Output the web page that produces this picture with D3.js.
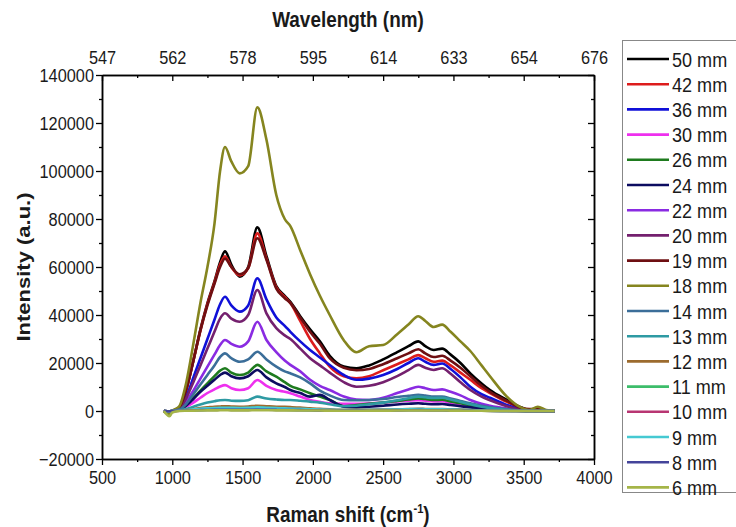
<!DOCTYPE html>
<html><head><meta charset="utf-8">
<script src="https://cdn.jsdelivr.net/npm/d3@7"></script>
<style>
body{margin:0;background:#fff;}
svg text{font-family:"Liberation Sans",Arial,sans-serif;fill:#1a1a1a;}
</style></head>
<body><svg id="c" width="736" height="527"></svg>
<script>
const shifts = [940,980,1000,1050,1100,1150,1200,1250,1300,1340,1375,1420,1480,1540,1605,1670,1740,1800,1840,1910,1980,2050,2120,2220,2310,2400,2500,2600,2680,2750,2800,2860,2920,2980,3050,3120,3200,3260,3380,3470,3540,3600,3660,3720];
const labels = ["50 mm","42 mm","36 mm","30 mm","26 mm","24 mm","22 mm","20 mm","19 mm","18 mm","14 mm","13 mm","12 mm","11 mm","10 mm","9 mm","8 mm","6 mm"];
const colors = ["#000000","#dd1c1c","#1010d8","#ee30ee","#1e7b1e","#0c0c60","#8a2be2","#74206e","#6e0f12","#85851f","#3b6e99","#2e9aa3","#9c6b2e","#3dbd6a","#b83572","#45c9d2","#44449a","#a5b548"];
const s50 = [0,-500,0,1500,9000,21000,34000,45000,54000,62000,66500,61000,56000,60000,76500,64500,52000,48000,45500,39500,34000,29000,23000,18500,17800,19000,21500,24500,27000,29000,27000,25400,26000,23500,20000,15700,11500,8700,4600,1800,500,300,0,0];
const s42 = [0,-400,0,1400,9000,21000,33500,44500,53500,61000,64500,60000,56500,59500,74000,63500,51500,47500,45000,37500,30000,24000,18500,14500,13600,14500,17000,19500,21500,23300,22000,20500,21000,19000,16000,13000,9500,7500,3800,1500,500,200,0,0];
const s36 = [0,-300,0,1000,6000,14000,22000,30000,38000,44500,47600,44000,41400,44000,55300,46500,39000,35500,33000,29000,25400,22300,19200,15000,13000,13500,15000,17500,20000,22000,20500,19200,19800,17500,14000,10100,7000,5500,2500,800,200,0,0,0];
const s30 = [0,-200,0,400,1800,3500,5500,7500,9000,10200,10800,9500,8750,9500,12900,10500,8750,8000,7400,6000,4600,3800,3200,3000,3000,3200,3500,4000,4300,4500,4300,4000,4100,3500,2800,2000,1300,900,400,100,0,0,0,0];
const s26 = [0,-200,0,500,2500,5500,8500,11500,14500,16800,17800,16000,15000,16000,19200,16500,14300,12000,10500,9000,7400,6000,4600,2000,2500,3000,3500,4200,4800,5200,5000,4600,4700,4000,3200,2400,1600,1100,500,100,0,0,0,0];
const s24 = [0,-200,0,500,2300,5000,8000,10500,13000,15000,16000,14500,13600,14500,17100,14000,11500,10000,8750,7500,6000,6700,4600,1800,1500,1800,2200,2700,3000,3200,3000,2800,2900,2500,2000,1500,1000,700,300,0,0,0,0,0];
const s22 = [0,-200,0,800,4000,8500,13500,18500,23500,27500,29600,28000,26800,29000,37200,29600,24500,21000,19200,16500,13000,10500,8750,6000,4800,4600,5500,7500,9000,10100,9500,8750,9000,8000,6500,4600,3000,2200,1000,300,0,0,0,0];
const s20 = [0,-300,0,1000,5500,12000,19000,26000,33000,38500,40700,38500,37200,40000,50400,40700,34500,31500,30000,26000,22000,19000,16000,12000,10100,10500,12000,14500,17000,19200,18000,17100,17800,15500,12000,8750,6000,4500,2000,600,0,0,0,0];
const s19 = [0,-400,0,1500,9000,21000,33500,44000,53000,60000,63500,60000,57000,59500,72000,63000,51000,47000,45000,39000,33000,28000,22000,18000,17000,17500,19500,22000,24000,25700,24000,22500,23000,21000,18000,14500,10500,8000,4200,1600,800,800,200,0];
const s18 = [0,-1500,0,2000,12000,28000,45000,60000,78000,100000,110000,104000,99000,102000,126500,113000,90000,80000,77000,67000,57000,48000,40000,29500,24500,27000,27500,32000,36000,39500,37500,35000,36000,33000,29000,25000,19000,14500,6000,1800,400,1800,400,0];
const s14 = [0,-200,0,600,3000,7000,11000,15000,19000,22500,24000,22000,20500,21500,24700,21500,18500,16500,15700,14000,11500,8500,6500,4600,4500,4600,5000,5800,6300,6700,6400,6000,6000,5200,4200,3200,2200,1500,700,200,0,0,0,0];
const s13 = [0,-100,0,200,800,1800,2700,3500,4100,4500,4600,4300,4200,4500,6000,5200,4800,4600,4600,4300,3900,3500,2800,2000,2200,2800,3500,4500,5300,6000,5700,5400,5500,4800,3800,2800,1800,1200,500,100,0,0,0,0];
const s12 = [0,-100,0,100,400,800,1200,1500,1800,1900,2000,1900,1800,1900,2200,2000,1800,1700,1600,1400,1100,900,700,500,500,500,600,700,800,900,850,800,800,700,600,400,300,200,100,0,0,0,0,0];
const s11 = [0,-100,0,100,200,300,400,500,550,600,600,550,500,550,650,600,550,500,450,400,350,300,250,200,200,250,300,350,400,400,380,350,350,300,250,200,150,100,50,0,0,0,0,0];
const s10 = [0,-100,0,100,300,500,700,800,900,950,1000,950,900,950,1100,1000,900,800,750,650,550,450,350,300,300,350,400,450,500,550,500,480,480,420,350,250,180,120,50,0,0,0,0,0];
const s9 = [0,-100,0,150,400,700,900,1100,1200,1300,1350,1300,1250,1300,1500,1350,1200,1100,1000,900,750,600,500,400,400,450,550,650,750,800,750,700,700,600,500,350,250,150,50,0,0,0,0,0];
const s8 = [0,-100,0,100,200,300,350,400,450,500,500,480,450,480,550,500,450,420,400,350,300,250,200,150,150,200,250,300,330,350,330,300,300,260,200,150,100,60,20,0,0,0,0,0];
const s6 = [0,-2200,-600,0,100,150,200,250,250,300,300,280,270,280,320,300,280,260,250,230,200,180,150,120,120,140,160,180,200,220,200,190,190,170,140,110,80,50,20,0,0,0,0,0];
const seriesValues = [s50,s42,s36,s30,s26,s24,s22,s20,s19,s18,s14,s13,s12,s11,s10,s9,s8,s6];
const xTicks = [500,1000,1500,2000,2500,3000,3500,4000];
const wavelengthLabels = ["547","562","578","595","614","633","654","676"];
const yTicks = [-20000,0,20000,40000,60000,80000,100000,120000,140000];

const svg = d3.select("#c");
const L=102, R=594, T=75, B=459;
const K = 0.86;          // horizontal glyph compression seen in the reference
const FS = 19;
const x = d3.scaleLinear().domain([500,4000]).range([L,R]);
const y = d3.scaleLinear().domain([-20000,140000]).range([B,T]);

// lines
const line = d3.line().x(d=>x(d[0])).y(d=>y(d[1])).curve(d3.curveMonotoneX);
const gLines = svg.append("g");
seriesValues.forEach((vals,i)=>{
  gLines.append("path").datum(shifts.map((s,j)=>[s,vals[j]]))
    .attr("d",line).attr("fill","none").attr("stroke",colors[i])
    .attr("stroke-width",2.6).attr("stroke-linejoin","round");
});

function styleAxis(g){
  g.select(".domain").attr("stroke","#000").attr("stroke-width",1.5);
  g.selectAll(".tick line").attr("stroke","#000").attr("stroke-width",1.3);
  g.selectAll("text").attr("font-size",FS).attr("fill","#1a1a1a")
    .attr("font-family","'Liberation Sans',Arial,sans-serif")
    .each(function(){
      const t = d3.select(this);
      const xv = +(t.attr("x")||0);
      t.attr("x", xv/K).attr("transform",`scale(${K},1)`);
    });
}
const minorX = d3.range(750,4000,500);
const minorY = d3.range(-10000,140000,20000);

// bottom
svg.append("g").attr("transform",`translate(0,${B})`)
  .call(d3.axisBottom(x).tickValues(xTicks).tickFormat(d3.format("d")).tickSize(6).tickSizeOuter(0).tickPadding(6)).call(styleAxis);
svg.append("g").attr("transform",`translate(0,${B})`)
  .call(d3.axisBottom(x).tickValues(minorX).tickFormat("").tickSize(3).tickSizeOuter(0)).call(styleAxis);
// top
svg.append("g").attr("transform",`translate(0,${T})`)
  .call(d3.axisTop(x).tickValues(xTicks).tickFormat((d,i)=>wavelengthLabels[i]).tickSize(-6).tickSizeOuter(0).tickPadding(11)).call(styleAxis);
svg.append("g").attr("transform",`translate(0,${T})`)
  .call(d3.axisTop(x).tickValues(minorX).tickFormat("").tickSize(-3).tickSizeOuter(0)).call(styleAxis);
// left
svg.append("g").attr("transform",`translate(${L},0)`)
  .call(d3.axisLeft(y).tickValues(yTicks).tickFormat(d3.format("d")).tickSize(6).tickSizeOuter(0).tickPadding(2)).call(styleAxis);
svg.append("g").attr("transform",`translate(${L},0)`)
  .call(d3.axisLeft(y).tickValues(minorY).tickFormat("").tickSize(3).tickSizeOuter(0)).call(styleAxis);
// right
svg.append("g").attr("transform",`translate(${R},0)`)
  .call(d3.axisRight(y).tickValues(yTicks).tickFormat("").tickSize(-6).tickSizeOuter(0)).call(styleAxis);
svg.append("g").attr("transform",`translate(${R},0)`)
  .call(d3.axisRight(y).tickValues(minorY).tickFormat("").tickSize(-3).tickSizeOuter(0)).call(styleAxis);

// titles
svg.append("g").attr("transform",`translate(${(L+R)/2},27) scale(${K},1)`)
  .append("text").attr("text-anchor","middle").attr("font-size",22).attr("font-weight","bold").text("Wavelength (nm)");
const bt = svg.append("g").attr("transform",`translate(${(L+R)/2},522) scale(${K},1)`)
  .append("text").attr("text-anchor","middle").attr("font-size",22).attr("font-weight","bold");
bt.append("tspan").text("Raman shift (cm");
bt.append("tspan").attr("font-size",13).attr("dy",-9).text("-1");
bt.append("tspan").attr("dy",9).text(")");
svg.append("g").attr("transform",`translate(23,${(T+B)/2}) scale(${K},1) rotate(-90)`)
  .append("text").attr("text-anchor","middle").attr("dy","0.35em").attr("font-size",22).attr("font-weight","bold").text("Intensity (a.u.)");

// legend
const lg = svg.append("g");
lg.append("rect").attr("x",622.5).attr("y",40.5).attr("width",120).attr("height",452)
  .attr("fill","none").attr("stroke","#888").attr("stroke-width",1);
labels.forEach((lab,i)=>{
  const yy = 59 + i*25.2;
  lg.append("line").attr("x1",627).attr("x2",669).attr("y1",yy).attr("y2",yy)
    .attr("stroke",colors[i]).attr("stroke-width",2.6);
  lg.append("g").attr("transform",`translate(672,${yy}) scale(${K},1)`)
    .append("text").attr("dy","0.36em").attr("font-size",21).text(lab);
});
</script></body></html>
